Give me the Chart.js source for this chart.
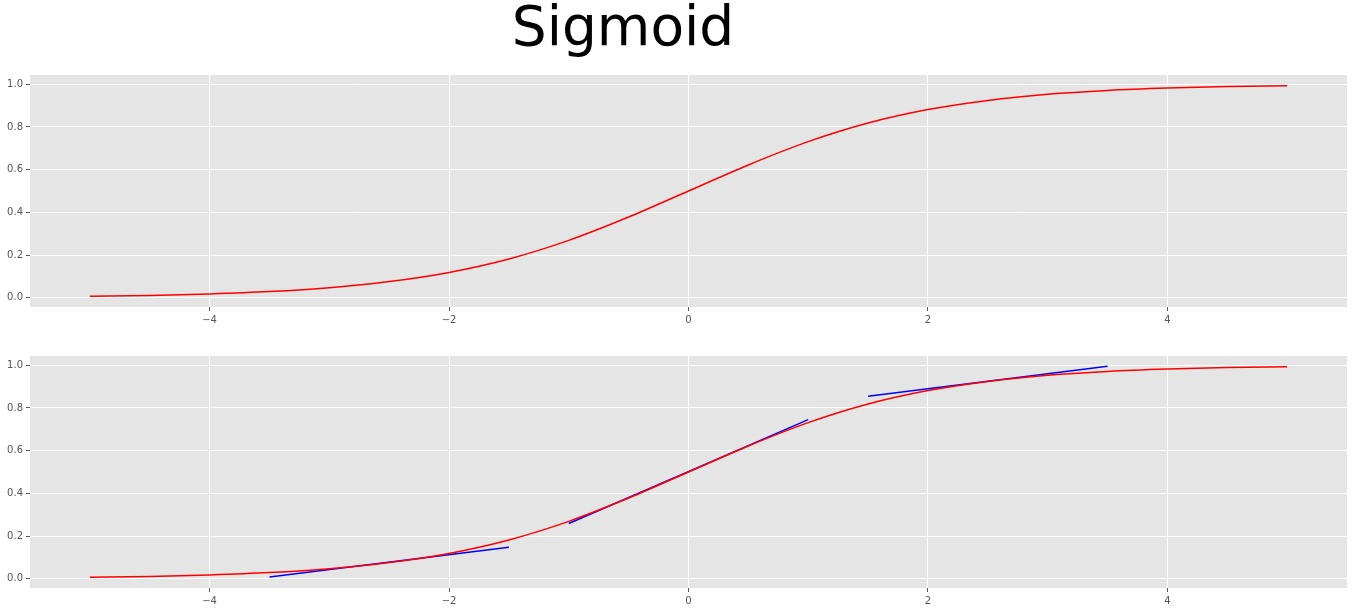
<!DOCTYPE html>
<html><head><meta charset="utf-8">
<script src="https://cdn.jsdelivr.net/npm/chart.js@4"></script>
<style>
body{margin:0;background:#fff;width:1358px;height:611px;position:relative;overflow:hidden;font-family:"DejaVu Sans",sans-serif}
#title{position:absolute;top:-4px;left:-56px;width:1358px;text-align:center;font-size:55px;line-height:60px;color:#000}
.box{position:absolute;left:0;width:1358px;height:262px}
</style></head><body>
<div id="title">Sigmoid</div>
<div class="box" style="top:66px"><canvas id="c1"></canvas></div>
<div class="box" style="top:347px"><canvas id="c2"></canvas></div>
<script>
// curve values
const curveX = [-5,-4.5,-4,-3.5,-3,-2.5,-2,-1.5,-1,-0.5,0,0.5,1,1.5,2,2.5,3,3.5,4,4.5,5];
const curveY = [0.007,0.011,0.018,0.029,0.047,0.076,0.119,0.182,0.269,0.378,0.5,0.622,0.731,0.818,0.881,0.924,0.953,0.971,0.982,0.989,0.993];
// tangent segments (bottom panel)
const tangentX = [[-3.5,-1.5],[-1,1],[1.5,3.5]];
const tangentY = [[0.009,0.148],[0.259,0.745],[0.855,0.995]];
const xTicks = [-4,-2,0,2,4];
const yTicks = [0,0.2,0.4,0.6,0.8,1.0];

const bgPlugin = {
  id: 'bg',
  beforeDraw(chart) {
    const a = chart.chartArea, ctx = chart.ctx;
    ctx.save(); ctx.fillStyle = '#e5e5e5';
    ctx.fillRect(a.left, a.top, a.right - a.left, a.bottom - a.top);
    ctx.restore();
  }
};

function pts(xs, ys) { return xs.map((x, i) => ({ x: x, y: ys[i] })); }
function fmt(v, d) { const s = v.toFixed(d); return v < 0 ? '\u2212' + s.slice(1) : s; }

function makeChart(id, withTangents) {
  const datasets = [{ data: pts(curveX, curveY), borderColor: '#ff0000', borderWidth: 1.5, pointRadius: 0, showLine: true, cubicInterpolationMode: 'monotone' }];
  if (withTangents) {
    tangentX.forEach((xs, i) => datasets.push({ data: pts(xs, tangentY[i]), borderColor: '#0000ff', borderWidth: 1.5, pointRadius: 0, showLine: true }));
  }
  new Chart(document.getElementById(id), {
    type: 'scatter',
    data: { datasets },
    plugins: [bgPlugin],
    options: {
      responsive: true, maintainAspectRatio: false, animation: false,
      layout: { padding: { left: 0, right: 11, top: 0, bottom: 0 } },
      plugins: { legend: { display: false }, tooltip: { enabled: false } },
      scales: {
        x: {
          min: -5.5, max: 5.5,
          afterBuildTicks: s => { s.ticks = xTicks.map(v => ({ value: v })); },
          afterFit: s => { s.height = 21; },
          grid: { color: '#ffffff', lineWidth: 1, tickColor: '#555', tickLength: 4 },
          border: { display: false },
          ticks: { color: '#555', font: { size: 10, family: 'DejaVu Sans' }, maxRotation: 0, padding: 3, callback: v => fmt(v, 0) }
        },
        y: {
          min: -0.043, max: 1.043,
          afterBuildTicks: s => { s.ticks = yTicks.map(v => ({ value: v })); },
          afterFit: s => { s.width = 30; },
          grid: { color: '#ffffff', lineWidth: 1, tickColor: '#555', tickLength: 4 },
          border: { display: false },
          ticks: { color: '#555', font: { size: 10, family: 'DejaVu Sans' }, padding: 3, callback: v => fmt(v, 1) }
        }
      }
    }
  });
}
makeChart('c1', false);
makeChart('c2', true);
</script>
</body></html>
